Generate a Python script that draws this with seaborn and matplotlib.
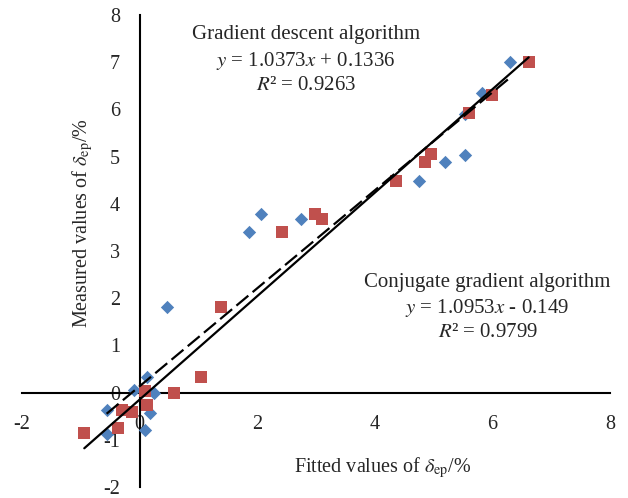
import matplotlib
matplotlib.use("Agg")
import matplotlib.pyplot as plt
import seaborn as sns
import numpy as np
import pandas as pd

# gradient descent algorithm (blue diamonds)
gd_fitted = [6.31, 5.82, 5.53, 5.53, 5.20, 4.76, 2.07, 1.87, 2.74, 0.46,
             0.12, -0.09, 0.24, -0.56, 0.17, 0.09, -0.56]
gd_measured = [7.00, 6.35, 5.90, 5.03, 4.89, 4.48, 3.79, 3.40, 3.68, 1.81,
               0.33, 0.06, -0.01, -0.37, -0.43, -0.79, -0.88]

# conjugate gradient algorithm (red squares)
cg_fitted = [6.62, 5.99, 5.60, 4.95, 4.86, 4.37, 2.98, 3.10, 2.43, 1.38,
             1.04, 0.58, 0.10, 0.12, -0.29, -0.12, -0.37, -0.94]
cg_measured = [7.00, 6.30, 5.92, 5.05, 4.88, 4.48, 3.79, 3.68, 3.40, 1.81,
               0.33, 0.00, 0.03, -0.26, -0.37, -0.41, -0.75, -0.86]

# trendline coefficients
gd_slope, gd_icpt, gd_r2 = 1.0373, 0.1336, 0.9263
cg_slope, cg_icpt, cg_r2 = 1.0953, -0.149, 0.9799

ticks_x = [-2, 0, 2, 4, 6, 8]
ticks_y = [-2, -1, 0, 1, 2, 3, 4, 5, 6, 7, 8]

sns.set_style("white")
plt.rcParams['font.family'] = ['Liberation Serif', 'DejaVu Serif']
plt.rcParams['mathtext.fontset'] = 'stix'
plt.rcParams['axes.unicode_minus'] = False

gd = pd.DataFrame({'x': gd_fitted, 'y': gd_measured})
cg = pd.DataFrame({'x': cg_fitted, 'y': cg_measured})

gd_lx = np.array([min(gd_fitted), max(gd_fitted)])
cg_lx = np.array([min(cg_fitted), max(cg_fitted)])
gd_line = pd.DataFrame({'x': gd_lx, 'y': gd_slope * gd_lx + gd_icpt})
cg_line = pd.DataFrame({'x': cg_lx, 'y': cg_slope * cg_lx + cg_icpt})

fig = plt.figure(figsize=(6.28, 4.98), dpi=100)
ax = fig.add_axes([0.035, 0.022, 0.936, 0.948])

sns.scatterplot(data=gd, x='x', y='y', marker='D', s=46, color='#4F81BD',
                linewidth=0, ax=ax, zorder=3)
sns.scatterplot(data=cg, x='x', y='y', marker='s', s=80, color='#C0504D',
                linewidth=0, ax=ax, zorder=3)
sns.lineplot(data=gd_line, x='x', y='y', color='black', lw=1.6,
             ax=ax, zorder=4).lines[-1].set_dashes([7, 2.5])
sns.lineplot(data=cg_line, x='x', y='y', color='black', lw=1.6, ax=ax, zorder=4)

ax.set_xlim(-2, 8)
ax.set_ylim(-2, 8)
ax.set_xticks(ticks_x)
ax.set_yticks(ticks_y)
ax.spines['left'].set_position(('data', 0))
ax.spines['bottom'].set_position(('data', 0))
ax.spines['top'].set_visible(False)
ax.spines['right'].set_visible(False)
for s in ['left', 'bottom']:
    ax.spines[s].set_linewidth(1.5)
    ax.spines[s].set_color('black')
ax.tick_params(axis='both', direction='in', length=4, width=1.5, labelsize=14.5)
ax.tick_params(axis='x', pad=16)
ax.tick_params(axis='y', pad=14)

ax.set_xlabel(r'Fitted values of $\delta_{\mathrm{ep}}$/%', fontsize=14.5)
ax.set_ylabel(r'Measured values of $\delta_{\mathrm{ep}}$/%', fontsize=14.5)
ax.xaxis.set_label_coords(0.614, 0.067)
ax.yaxis.set_label_coords(0.124, 0.559)

fs = 15
ax.text(2.83, 7.58, 'Gradient descent algorithm', ha='center', va='center', fontsize=fs)
ax.text(2.83, 7.02, r'$y$ = {}$x$ + {}'.format(gd_slope, gd_icpt), ha='center', va='center', fontsize=fs)
ax.text(2.83, 6.51, r'$R$² = {}'.format(gd_r2), ha='center', va='center', fontsize=fs)

ax.text(5.92, 2.34, 'Conjugate gradient algorithm', ha='center', va='center', fontsize=fs)
ax.text(5.92, 1.79, r'$y$ = {}$x$ - {}'.format(cg_slope, abs(cg_icpt)), ha='center', va='center', fontsize=fs)
ax.text(5.92, 1.28, r'$R$² = {}'.format(cg_r2), ha='center', va='center', fontsize=fs)

plt.savefig('out.png', dpi=100)
